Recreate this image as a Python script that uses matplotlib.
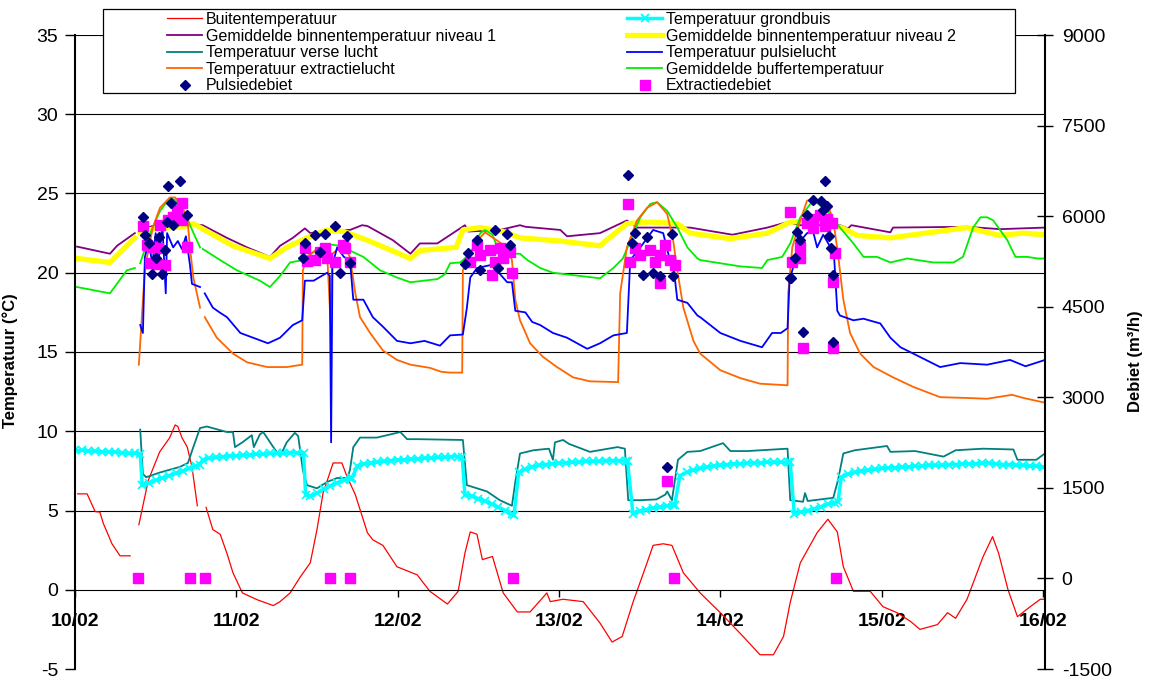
import numpy as np
import matplotlib
matplotlib.use("Agg")
import matplotlib.pyplot as plt
from matplotlib.patches import Rectangle

plt.rcParams['font.family'] = ['Liberation Sans', 'DejaVu Sans']

nan = np.nan

# time axis in hours from 10/02 00:00
day_ticks = [0, 24, 48, 72, 96, 120, 144]
day_labels = ['10/02', '11/02', '12/02', '13/02', '14/02', '15/02', '16/02']

# Buitentemperatuur
buiten_h = [0.4, 1.8, 3.0, 3.7, 4.2, 5.5, 6.7, 8.2, 8.8, 9.5, 10.9, 12.6, 14.1, 14.9, 15.3, 15.9, 16.7,
            17.4, 18.2, 18.8, 19.5, 20.5, 21.6, 22.6, 23.5, 24.9, 27.1, 29.5, 30.5, 32.0, 33.5, 35.0,
            36.0, 36.9, 38.4, 39.7, 40.5, 41.7, 43.5, 44.3, 45.8, 47.9, 50.9, 52.8, 55.4, 57.0, 58.0,
            58.8, 59.8, 60.6, 62.1, 63.7, 65.8, 67.7, 70.2, 70.7, 72.6, 75.6, 78.1, 79.9, 81.4, 83.0,
            85.1, 86.0, 87.5, 88.8, 90.5, 93.0, 96.0, 99.4, 101.9, 103.9, 105.4, 106.4, 107.9, 110.4,
            112.0, 113.4, 114.3, 115.8, 118.3, 120.2, 122.3, 124.3, 125.7, 128.3, 129.8, 131.0, 132.7,
            135.1, 136.5, 137.4, 138.8, 140.2, 142.1, 143.6, 144.3]
buiten_t = [6.05, 6.05, 4.93, 4.9, 4.2, 2.9, 2.14, 2.14, nan, 4.1, 6.9, 8.7, 9.6, 10.4, 10.3, 9.6, 9.0,
            7.75, 5.3, nan, 5.2, 3.8, 3.5, 2.3, 1.07, -0.2, -0.63, -1.0, -0.75, -0.2, 0.8, 1.7,
            3.8, 6.1, 8.0, 8.0, 7.1, 6.0, 3.6, 3.15, 2.8, 1.45, 0.94, -0.1, -0.9, -0.1, 2.3,
            3.65, 3.5, 1.9, 2.1, -0.2, -1.4, -1.4, -0.2, -0.75, -0.6, -0.75, -2.1, -3.3, -2.95, -0.8,
            1.7, 2.8, 2.9, 2.8, 1.07, -0.2, -1.45, -2.95, -4.1, -4.1, -2.95, -0.8, 1.7, 3.6,
            4.45, 3.65, 1.45, -0.1, -0.1, -1.07, -1.45, -2.0, -2.5, -2.2, -1.45, -1.8, -0.6,
            2.1, 3.35, 2.3, 0.0, -1.7, -1.07, -0.6, -0.6]

# Temperatuur grondbuis
grond_h = [0, 1, 2, 3, 4, 5, 6, 7, 8, 9, 9.7,
           10, 11, 12, 13, 14, 15, 16, 17, 18, 18.6,
           19, 20, 21, 22, 23, 24, 25, 26, 27, 28, 29, 30, 31, 32, 33, 34,
           34.3, 35, 36, 37, 38, 39, 40, 41, 41.2,
           42, 43, 44, 45, 46, 47, 48, 49, 50, 51, 52, 53, 54, 55, 56, 57, 57.6,
           58, 59, 60, 61, 62, 63, 64, 65, 65.3,
           66, 67, 68, 69, 70, 71, 72, 73, 74, 75, 76, 77, 78, 79, 80, 81, 82, 82.2,
           83, 84, 85, 86, 87, 88, 89, 89.2,
           90, 91, 92, 93, 94, 95, 96, 97, 98, 99, 100, 101, 102, 103, 104, 105, 106, 106.4,
           107, 108, 109, 110, 111, 112, 113, 113.5,
           114, 115, 116, 117, 118, 119, 120, 121, 122, 123, 124, 125, 126, 127, 128, 129,
           130, 131, 132, 133, 134, 135, 136, 137, 138, 139, 140, 141, 142, 143, 144]
grond_t = [8.8, 8.8, 8.75, 8.75, 8.7, 8.7, 8.7, 8.65, 8.6, 8.6, 8.55,
           6.6, 6.75, 6.9, 7.05, 7.2, 7.35, 7.5, 7.65, 7.8, 7.9,
           8.2, 8.3, 8.35, 8.4, 8.45, 8.45, 8.5, 8.5, 8.55, 8.55, 8.6, 8.6, 8.6, 8.65, 8.65, 8.65,
           6.0, 5.9, 6.1, 6.35, 6.55, 6.75, 6.9, 7.0, 7.05,
           7.8, 7.95, 8.0, 8.05, 8.1, 8.15, 8.2, 8.2, 8.25, 8.25, 8.3, 8.3, 8.35, 8.35, 8.4, 8.4, 8.4,
           6.0, 5.9, 5.75, 5.6, 5.4, 5.2, 5.0, 4.75, 4.7,
           7.4, 7.6, 7.75, 7.85, 7.9, 7.95, 8.0, 8.0, 8.05, 8.05, 8.1, 8.1, 8.1, 8.15, 8.15, 8.15, 8.1, 8.1,
           4.8, 4.95, 5.05, 5.15, 5.2, 5.3, 5.35, 5.35,
           7.2, 7.4, 7.55, 7.65, 7.75, 7.8, 7.85, 7.9, 7.95, 7.95, 8.0, 8.0, 8.0, 8.05, 8.05, 8.05, 8.05, 8.05,
           4.8, 4.9, 5.0, 5.1, 5.25, 5.4, 5.5, 5.55,
           7.1, 7.3, 7.4, 7.5, 7.55, 7.6, 7.65, 7.7, 7.7, 7.75, 7.75, 7.8, 7.8, 7.85, 7.85, 7.85,
           7.9, 7.9, 7.95, 7.95, 7.95, 8.0, 8.0, 7.95, 7.9, 7.9, 7.85, 7.85, 7.8, 7.8, 7.75]

# Gemiddelde binnentemperatuur niveau 1
niv1_h = [0.3, 5.2, 6.25, 8.9, 9.2, 9.7, 12.65, 16.1, 19.0, 22.6, 25.6, 29.0, 30.5, 32.4, 34.2, 35.0,
          37.9, 40.9, 42.7, 43.5, 47.3, 49.9, 51.3, 53.9, 58.0, 58.5, 63.2, 66.2, 67.0, 72.2, 73.2,
          78.1, 82.1, 83.6, 87.8, 91.5, 97.8, 103.0, 106.0, 107.9, 113.8, 115.0, 115.5, 121.3, 121.7,
          132.7, 137.6, 144.3]
niv1_t = [21.65, 21.2, 21.7, 22.5, nan, 22.7, 23.1, 23.1, 23.0, 22.2, 21.6, 21.0, 21.7, 22.2, 22.8, 22.5,
          22.7, 22.7, 23.0, 22.95, 22.05, 21.2, 21.85, 21.85, 23.0, 22.6, 22.7, 23.0, 22.9, 22.7, 22.3,
          22.5, 23.3, 22.85, 22.85, 22.85, 22.4, 22.85, 23.2, 23.0, 23.0, 22.8, 23.0, 22.55, 22.85,
          22.9, 22.75, 22.85]

# Gemiddelde binnentemperatuur niveau 2
niv2_h = [0.3, 5.2, 8.9, 9.2, 9.7, 10.7, 12.65, 16.1, 17.6, 20.1, 23.5, 29.0, 31.5, 34.5, 37.5, 40.0,
          43.5, 49.9, 51.3, 56.7, 57.7, 60.3, 63.7, 66.2, 72.2, 78.1, 79.2, 82.1, 85.6, 89.6, 91.5,
          97.5, 103.0, 106.4, 110.4, 114.3, 116.4, 121.3, 132.7, 137.6, 141.0, 144.3]
niv2_t = [20.9, 20.65, 22.2, nan, 22.5, 22.7, 22.8, 22.9, 23.1, 22.5, 21.7, 20.9, 21.6, 22.2, 22.7, 22.6,
          22.05, 20.9, 21.4, 21.6, 22.7, 22.85, 22.6, 22.2, 22.0, 21.7, 22.1, 23.1, 23.2, 23.1, 22.5,
          22.15, 22.5, 23.2, 23.3, 22.8, 22.35, 22.2, 22.85, 22.35, 22.5, 22.4]

# Temperatuur verse lucht
verse_h = [9.7, 10.1, 10.6, 12.65, 15.6, 16.8, 17.6, 18.6, 19.6, 22.6, 23.5, 23.8, 24.9, 26.3, 26.6,
           27.5, 28.0, 29.5, 30.5, 31.5, 32.7, 33.2, 33.9, 34.5, 36.0, 37.5, 39.0, 40.5, 40.9, 41.4,
           42.4, 44.9, 48.4, 49.4, 51.0, 57.7, 58.3, 61.3, 63.2, 65.0, 65.5, 66.2, 68.2, 70.5, 71.1,
           71.4, 72.6, 73.5, 76.6, 80.7, 81.8, 82.3, 84.1, 86.5, 87.8, 88.1, 88.8, 89.7, 91.1, 93.0,
           96.4, 97.5, 100.0, 106.0, 106.4, 108.3, 108.6, 109.0, 112.8, 113.5, 114.3, 116.0, 120.8,
           121.3, 125.0, 129.2, 131.0, 135.1, 139.6, 140.2, 143.0, 144.3]
verse_t = [10.1, 7.3, 7.1, 7.4, 7.75, 8.0, 9.0, 10.2, 10.3, 9.95, 9.95, 9.0, 9.3, 9.75, 9.0,
           9.8, 9.95, 9.0, 8.4, 9.3, 9.9, 9.7, 7.55, 6.6, 6.4, 6.8, 7.05, 7.05, 7.55, 9.0,
           9.6, 9.6, 9.95, 9.5, 9.5, 9.45, 6.6, 6.2, 5.65, 5.3, 6.8, 8.6, 8.8, 8.9, 8.2,
           9.3, 9.45, 9.2, 8.7, 9.0, 8.9, 5.65, 5.65, 5.7, 6.0, 6.2, 5.65, 8.2, 8.7, 8.75,
           9.25, 8.75, 8.75, 8.9, 5.65, 5.55, 6.1, 5.6, 5.8, 6.9, 8.6, 8.8, 9.07,
           8.7, 8.75, 8.4, 8.8, 8.9, 8.85, 8.2, 8.2, 8.6]

# Temperatuur pulsielucht
pulsie_h = [9.7, 10.1, 10.4, 11.0, 11.5, 12.0, 12.5, 13.0, 13.5, 13.7, 14.6, 15.3, 15.9, 16.5, 17.1,
            17.4, 18.6, 19.0, 19.3, 20.5, 21.5, 22.6, 24.6, 26.5, 28.7, 30.5, 32.4, 33.8, 34.2, 35.5,
            37.5, 37.9, 38.1, 38.3, 39.0, 40.0, 40.9, 41.4, 42.9, 44.3, 45.8, 47.9, 49.9, 52.0, 54.3,
            55.8, 57.7, 58.3, 58.8, 59.8, 62.0, 64.3, 65.0, 65.5, 67.0, 68.0, 69.2, 71.1, 73.2, 76.2,
            78.1, 80.1, 82.1, 82.6, 84.1, 86.0, 87.5, 88.5, 89.0, 89.6, 91.1, 92.6, 93.0, 96.0, 99.0,
            102.2, 103.7, 105.0, 106.0, 106.3, 106.8, 107.9, 108.9, 109.8, 110.4, 111.3, 112.4, 112.9,
            113.4, 113.8, 115.8, 117.3, 119.8, 121.3, 122.8, 124.7, 128.7, 131.7, 135.7, 139.1, 141.4,
            144.3]
pulsie_t = [16.7, 16.2, 21.0, 22.0, 20.5, 22.5, 21.0, 23.0, 18.7, 22.5, 21.6, 22.0, 21.5, 22.3, 20.5,
            19.3, 19.1, nan, 18.7, 17.8, 17.5, 17.2, 16.2, 15.9, 15.55, 15.9, 16.7, 17.0, 19.5, 19.5,
            20.0, 19.8, 9.3, 20.5, 21.6, 21.0, 20.8, 18.3, 18.3, 17.2, 16.6, 15.7, 15.55, 15.7, 15.4,
            16.05, 16.1, 17.8, 19.7, 20.3, 20.5, 19.4, 19.4, 17.6, 17.5, 16.9, 16.7, 16.2, 15.9, 15.2,
            15.55, 16.05, 16.2, 20.8, 21.6, 22.7, 22.5, 20.8, 20.5, 18.3, 18.1, 17.3, 17.2, 16.2, 15.7,
            15.3, 16.2, 16.2, 16.5, 19.5, 20.3, 22.0, 22.5, 22.6, 21.6, 22.4, 21.6, 21.2,
            17.6, 17.3, 17.0, 17.1, 16.8, 15.9, 15.3, 14.9, 14.05, 14.3, 14.2, 14.5, 14.1,
            14.5]

# Temperatuur extractielucht
extr_h = [9.5, 10.4, 11.6, 12.65, 14.1, 14.9, 15.6, 16.7, 17.1, 17.6, 18.6, 19.0, 19.3, 21.1, 23.5,
          25.6, 28.6, 31.5, 33.8, 33.9, 34.5, 36.0, 37.5, 38.0, 38.3, 39.4, 40.5, 40.9, 41.7, 42.4,
          43.9, 45.8, 47.9, 49.9, 52.8, 54.5, 55.8, 57.6, 57.7, 58.5, 59.8, 61.0, 62.2, 64.3, 65.0,
          65.5, 66.2, 67.7, 69.6, 71.7, 74.1, 76.6, 80.8, 81.1, 82.1, 83.6, 85.1, 86.6, 88.1, 89.0,
          89.6, 90.5, 92.0, 93.0, 96.0, 99.0, 101.9, 106.0, 106.1, 106.7, 107.9, 108.9, 109.8, 111.9,
          112.8, 113.5, 114.3, 115.3, 116.8, 118.8, 121.7, 124.7, 128.7, 132.7, 135.7, 139.4, 141.1,
          144.3]
extr_t = [14.2, 20.3, 22.9, 24.1, 24.75, 24.75, 24.4, 23.5, 21.6, 19.7, 17.8, nan, 17.2, 15.9, 14.9,
          14.35, 14.05, 14.05, 14.2, 20.15, 21.0, 21.5, 21.3, 17.0, 21.2, 21.6, 21.3, 21.0, 18.7, 17.2,
          16.2, 15.1, 14.5, 14.2, 14.0, 13.75, 13.7, 13.7, 20.15, 21.0, 22.0, 22.55, 22.2, 21.6, 20.8,
          18.3, 17.0, 15.55, 14.7, 14.05, 13.4, 13.15, 13.1, 18.7, 21.6, 23.3, 24.1, 24.45, 23.7, 22.0,
          20.15, 17.8, 15.7, 14.9, 13.85, 13.35, 13.0, 12.9, 18.7, 21.6, 23.3, 24.55, 24.6, 24.4,
          23.3, 21.2, 18.3, 16.2, 14.9, 14.05, 13.4, 12.8, 12.15, 12.1, 12.05, 12.3, 12.1,
          11.8]

# Gemiddelde buffertemperatuur
buffer_h = [0.3, 5.2, 7.7, 8.9, 9.2, 9.7, 11.2, 12.65, 14.1, 14.9, 16.7, 17.1, 18.6, 18.8, 19.0, 21.6,
            24.1, 27.5, 29.0, 30.5, 32.0, 33.9, 35.5, 37.5, 39.5, 40.9, 42.9, 45.4, 47.9, 49.9, 53.9,
            55.0, 55.8, 57.3, 58.8, 60.3, 61.0, 62.1, 63.2, 65.2, 66.2, 67.3, 69.2, 71.1, 74.1, 78.1,
            80.1, 81.5, 82.6, 84.1, 85.6, 86.6, 88.1, 89.6, 91.1, 92.6, 93.0, 96.0, 99.0, 102.2, 103.0,
            105.2, 106.4, 107.9, 109.4, 110.4, 111.9, 113.8, 115.8, 117.3, 119.3, 121.3, 123.8, 127.7,
            130.7, 132.1, 133.6, 134.7, 135.7, 136.6, 138.7, 139.9, 141.7, 143.2, 144.3]
buffer_t = [19.1, 18.7, 20.15, 20.3, nan, 20.6, 22.5, 23.9, 24.7, 24.6, 23.5, 23.0, 21.6, nan, 21.5, 20.8,
            20.15, 19.5, 19.1, 19.8, 20.65, 20.8, 21.3, 21.8, 21.7, 21.4, 21.0, 20.15, 19.7, 19.4, 19.6,
            19.9, 20.6, 20.65, 21.2, 22.5, 22.7, 22.4, 21.2, 21.2, 21.2, 20.8, 20.3, 20.0, 19.85, 19.65,
            20.3, 20.9, 22.0, 23.5, 24.35, 24.45, 23.9, 22.85, 21.6, 20.9, 20.8, 20.6, 20.4, 20.3, 20.8,
            21.0, 21.85, 23.5, 24.35, 24.4, 23.9, 22.85, 21.85, 21.0, 21.0, 20.65, 20.9, 20.65,
            20.65, 21.0, 22.85, 23.5, 23.5, 23.3, 22.05, 21.0, 21.0, 20.9, 20.9]

# Pulsiedebiet (m3/h)
pdeb_h = [10.1, 10.4, 11.0, 11.5, 12.0, 12.5, 12.95, 13.4, 13.7, 13.8, 14.3, 14.6, 15.6, 16.7,
          33.9, 34.2, 35.7, 36.5, 37.2, 38.7, 39.4, 40.5, 40.9,
          58.0, 58.5, 59.8, 60.3, 62.5, 62.9, 64.3, 64.7,
          82.3, 82.9, 83.3, 84.5, 85.1, 86.0, 87.1, 88.1, 88.8, 89.0,
          106.3, 106.5, 107.1, 107.4, 107.9, 108.3, 108.9, 109.8, 111.0, 111.3, 111.6, 111.9, 112.1,
          112.4, 112.8, 112.8]
pdeb_q = [5978, 5680, 5550, 5034, 5300, 5647, 5034, 5432, 5895, 6492, 6210, 5846, 6575, 6011,
          5300, 5548, 5680, 5400, 5696, 5829, 5051, 5663, 5216,
          5200, 5382, 5597, 5100, 5763, 5134, 5696, 5514,
          6674, 5548, 5713, 5018, 5647, 5051, 5001, 1838, 5696, 5001,
          4968, 4968, 5299, 5730, 5597, 4074, 6011, 6260, 6243, 6100, 6575, 6160, 5663,
          5465, 5018, 3908]

# Extractiedebiet (m3/h)
edeb_h = [9.4, 17.1, 19.3, 10.1, 10.7, 11.6, 12.35, 11.2, 12.2, 13.4, 12.65, 13.8, 14.6, 15.2, 15.9,
          15.9, 16.7,
          37.9, 40.9, 34.2, 35.7, 37.2, 38.7, 40.2, 40.9, 36.5, 39.9, 34.5, 37.5,
          65.2, 62.1, 65.0, 58.8, 60.3, 61.8, 63.2, 64.7, 59.8, 62.5, 63.7,
          89.1, 88.1, 82.3, 87.1, 82.6, 84.1, 85.6, 87.1, 88.5, 89.3, 83.3, 86.3, 87.8,
          113.2, 106.3, 106.7, 107.9, 107.9, 108.3, 112.8, 113.1, 112.8, 108.9, 109.8, 110.9, 111.9,
          112.6, 109.8, 111.6]
edeb_q = [0, 0, 0, 5829, 5514, 5481, 5465, 5216, 5200, 5183, 5846, 5928, 5978, 6094, 6210,
          5928, 5481,
          0, 0, 5465, 5266, 5465, 5233, 5465, 5233, 5400, 5514, 5250, 5300,
          0, 5018, 5051, 5233, 5350, 5433, 5465, 5400, 5514, 5233, 5300,
          0, 1606, 6193, 4885, 5233, 5350, 5433, 5350, 5266, 5183, 5465, 5233, 5514,
          0, 6061, 5233, 5299, 5481, 3809, 3809, 5382, 4902, 5880, 5960, 6011, 5960,
          5880, 5800, 5830]

temp_ticks = [-5, 0, 5, 10, 15, 20, 25, 30, 35]
deb_ticks = [-1500, 0, 1500, 3000, 4500, 6000, 7500, 9000]

fig = plt.figure(figsize=(11.5, 6.82), dpi=100)
ax = fig.add_axes([75 / 1150, 13 / 682, 970 / 1150, 634 / 682])
ax2 = ax.twinx()

l1, = ax.plot(buiten_h, buiten_t, color='#FF0000', lw=0.9, label='Buitentemperatuur')
l3, = ax.plot(niv1_h, niv1_t, color='#800080', lw=1.3, label='Gemiddelde binnentemperatuur niveau 1')
l4, = ax.plot(niv2_h, niv2_t, color='#FFFF00', lw=3.8, label='Gemiddelde binnentemperatuur niveau 2')
l8, = ax.plot(buffer_h, buffer_t, color='#00EE00', lw=1.3, label='Gemiddelde buffertemperatuur')
l5, = ax.plot(verse_h, verse_t, color='#008080', lw=1.3, label='Temperatuur verse lucht')
l2, = ax.plot(grond_h, grond_t, color='#00FFFF', lw=2.5, marker='x', ms=6, mew=1.3,
              label='Temperatuur grondbuis')
l7, = ax.plot(extr_h, extr_t, color='#FF6600', lw=1.3, label='Temperatuur extractielucht')
l6, = ax.plot(pulsie_h, pulsie_t, color='#0000FF', lw=1.3, label='Temperatuur pulsielucht')

m2, = ax2.plot(edeb_h, edeb_q, ls='none', marker='s', ms=7.5, color='#FF00FF', mec='#FF00FF',
               label='Extractiedebiet')
m1, = ax2.plot(pdeb_h, pdeb_q, ls='none', marker='D', ms=5.5, color='#000080', mec='#000080',
               label='Pulsiedebiet')

ax.set_xlim(0, 144.3)
ax.set_ylim(-5, 35)
ax2.set_ylim(-1500, 9000)

ax.set_yticks(temp_ticks)
ax.set_yticklabels([str(v) for v in temp_ticks])
ax2.set_yticks(deb_ticks)
ax2.set_yticklabels([str(v) for v in deb_ticks])
ax.set_xticks(day_ticks)
ax.set_xticklabels(day_labels)

ax.yaxis.grid(True, color='black', lw=0.8)
ax.get_ygridlines()[0].set_visible(False)
ax.get_ygridlines()[1].set_visible(False)
ax.set_axisbelow(True)

for a in (ax, ax2):
    a.spines['top'].set_visible(False)
    a.spines['bottom'].set_visible(False)
ax.spines['bottom'].set_visible(True)
ax.spines['bottom'].set_position(('data', 0))
ax.spines['left'].set_linewidth(1.5)
ax2.spines['right'].set_linewidth(1.5)
ax2.spines['left'].set_visible(False)
ax.spines['right'].set_visible(False)

ax.tick_params(axis='x', direction='out', length=5, width=1, labelsize=14, pad=12)
ax.tick_params(axis='y', direction='out', length=7, width=1, labelsize=14, pad=5)
ax2.tick_params(axis='y', direction='inout', length=12, width=1, labelsize=14, pad=6)
for t in ax.get_xticklabels():
    t.set_fontweight('bold')

ax.set_ylabel('Temperatuur (°C)', fontsize=12, fontweight='bold')
ax.yaxis.set_label_coords(-0.0588, 0.486)
ax2.set_ylabel('Debiet (m³/h)', fontsize=12, fontweight='bold')
ax2.yaxis.set_label_coords(1.0856, 0.486)

# legend box
fig.patches.append(Rectangle((103 / 1150, 1 - 93 / 682), 912 / 1150, 84 / 682, transform=fig.transFigure,
                             facecolor='white', edgecolor='black', lw=0.9, zorder=3))
handles = [l1, l3, l5, l7, m1, l2, l4, l6, l8, m2]
fig.legend(handles, [h.get_label() for h in handles], ncol=2, loc='upper left',
           bbox_to_anchor=(167 / 1150, 1 - 12 / 682), frameon=False, fontsize=11.5,
           handlelength=2.2, handletextpad=0.25, columnspacing=8.2, labelspacing=0.1,
           borderpad=0, borderaxespad=0, numpoints=1)

fig.savefig('out.png', dpi=100)
